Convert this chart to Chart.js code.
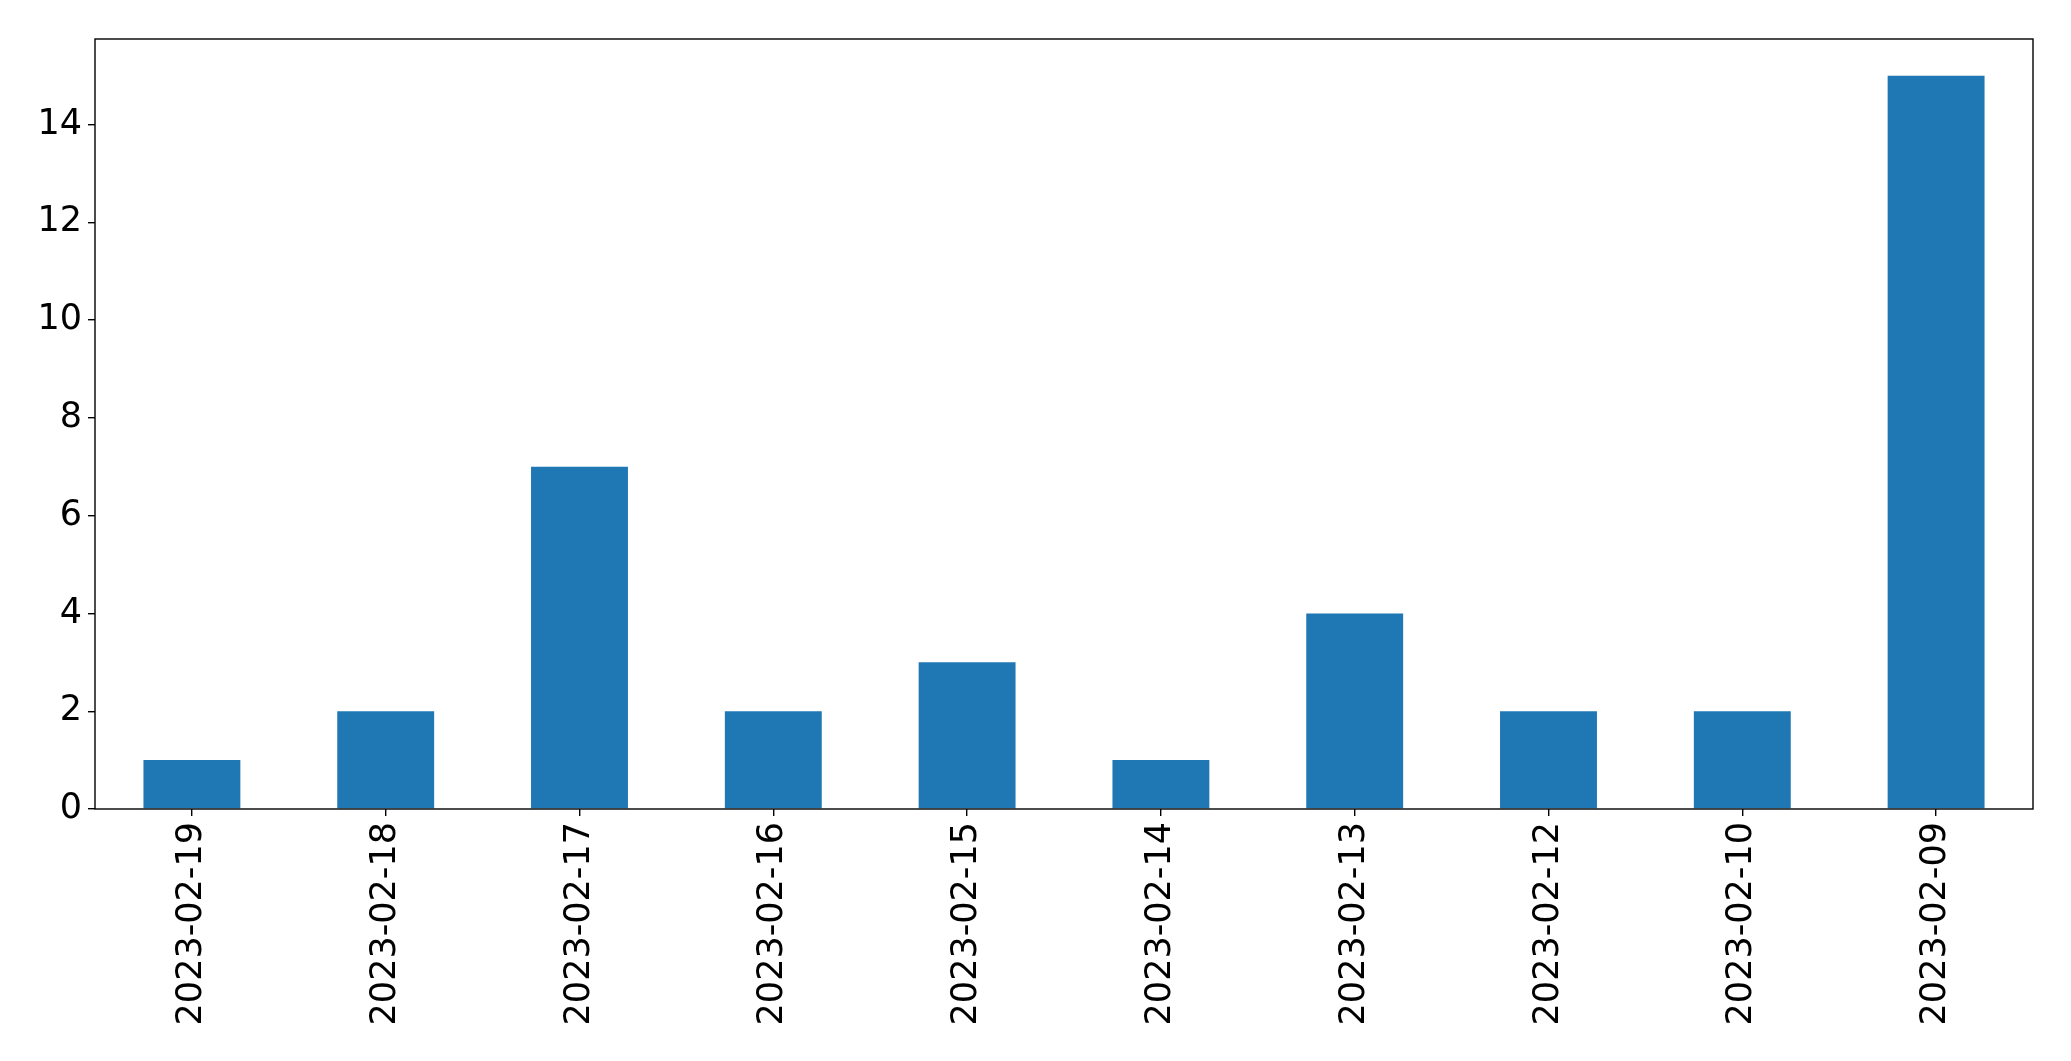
<!DOCTYPE html>
<html>
<head>
<meta charset="utf-8">
<script src="https://cdn.jsdelivr.net/npm/chart.js@4/dist/chart.umd.min.js"></script>
<style>
  html, body { margin: 0; padding: 0; background: #ffffff; }
  #wrap { width: 2071px; height: 1061px; }
</style>
</head>
<body>
<div id="wrap"><canvas id="c" width="2071" height="1061"></canvas></div>
<script>
const categories = ["2023-02-19", "2023-02-18", "2023-02-17", "2023-02-16", "2023-02-15",
                    "2023-02-14", "2023-02-13", "2023-02-12", "2023-02-10", "2023-02-09"];
const counts = [1, 2, 7, 2, 3, 1, 4, 2, 2, 15];
const yTicks = [0, 2, 4, 6, 8, 10, 12, 14];
const yMax = 15.75;

const frame = {
  id: 'frame',
  afterDatasetsDraw(chart) {
    const a = chart.chartArea, ctx = chart.ctx;
    ctx.save();
    ctx.strokeStyle = '#000';
    ctx.lineWidth = 1.4;
    ctx.strokeRect(a.left, a.top, a.right - a.left, a.bottom - a.top);
    ctx.restore();
  }
};

new Chart(document.getElementById('c'), {
  type: 'bar',
  data: {
    labels: categories,
    datasets: [{
      data: counts,
      backgroundColor: '#1f77b4',
      borderWidth: 0,
      barPercentage: 0.5,
      categoryPercentage: 1.0
    }]
  },
  options: {
    responsive: false,
    animation: false,
    devicePixelRatio: 1,
    layout: { padding: { top: 39, right: 38, left: 0, bottom: 0 } },
    plugins: { legend: { display: false }, tooltip: { enabled: false } },
    scales: {
      x: {
        offset: true,
        grid: { display: true, drawOnChartArea: false, drawTicks: true, tickLength: 7, color: '#000', lineWidth: 1.4, offset: false },
        border: { display: false },
        ticks: {
          autoSkip: false, maxRotation: 90, minRotation: 90, padding: 6,
          color: '#000', font: { family: 'DejaVu Sans', size: 35 }
        },
        afterFit(scale) { scale.height = 1061 - 809; }
      },
      y: {
        min: 0, max: yMax,
        grid: { display: true, drawOnChartArea: false, drawTicks: true, tickLength: 7, color: '#000', lineWidth: 1.4 },
        border: { display: false },
        afterBuildTicks(scale) { scale.ticks = yTicks.map(v => ({ value: v })); },
        ticks: {
          padding: 6, color: '#000', font: { family: 'DejaVu Sans', size: 35 }
        },
        afterFit(scale) { scale.width = 95; }
      }
    }
  },
  plugins: [frame]
});
</script>
</body>
</html>
